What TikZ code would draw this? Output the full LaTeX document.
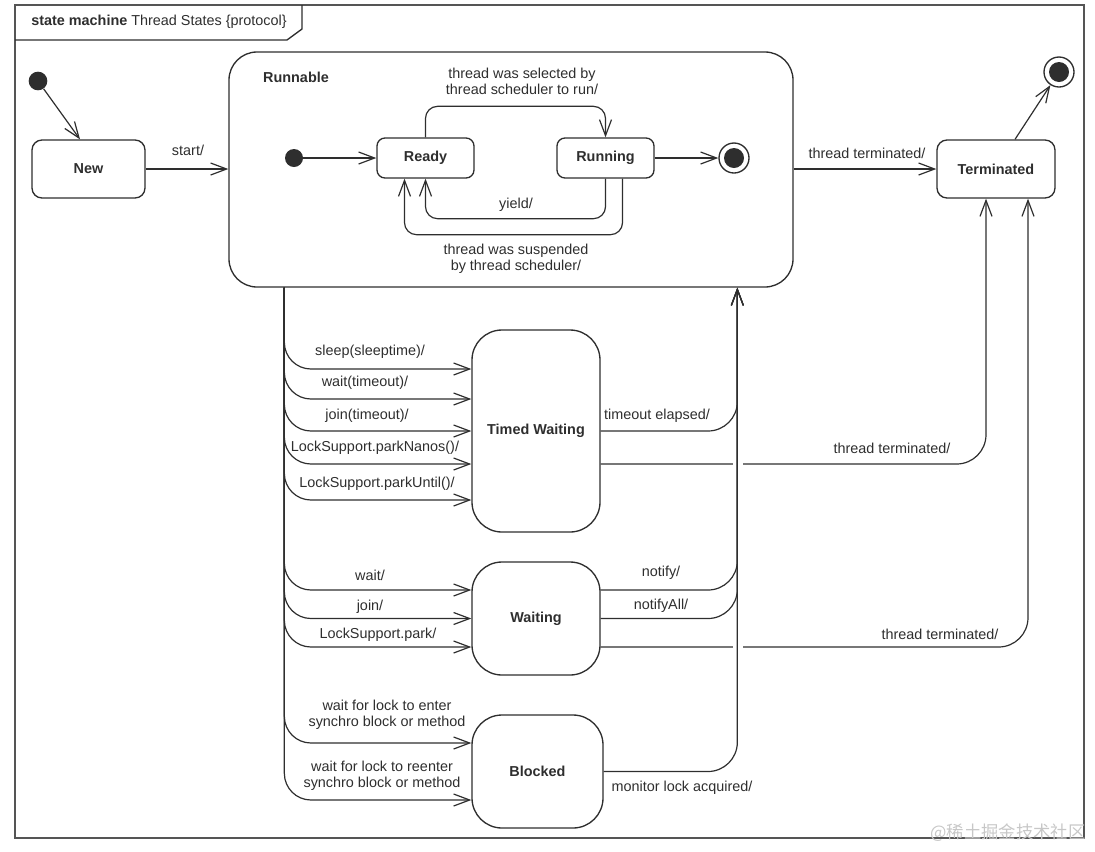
\documentclass[tikz,border=0pt]{standalone}
\usepackage{fontspec}
\setmainfont{Liberation Sans}
\newfontfamily\cjk{Noto Sans CJK SC}
\usetikzlibrary{arrows.meta,calc}
\definecolor{ink}{HTML}{2E2E2E}
\definecolor{framec}{HTML}{555555}
\begin{document}
\begin{tikzpicture}[x=0.75pt,y=-0.75pt,
  font=\fontsize{10.8}{12}\selectfont,
  every node/.style={text=ink},
  sbox/.style={draw=ink, line width=1pt, rounded corners=#1, inner sep=0pt,
    font=\fontsize{10.8}{12}\selectfont\bfseries},
  sbox/.default=7.5pt,
  conn/.style={draw=ink, line width=0.9pt, -{Straight Barb[length=12pt,width=9pt]}},
  lab/.style={inner sep=0pt, align=center},
  initst/.style={circle, fill=ink, inner sep=0pt, minimum size=14pt},
  finst/.style={circle, draw=ink, line width=1pt, inner sep=0pt, minimum size=22.5pt,
    path picture={\fill[ink] (path picture bounding box.center) circle (7.5pt);}}
]
\useasboundingbox (0,0) rectangle (1095,851);
% frame
\draw[framec, line width=1.5pt] (15,5) rectangle (1084,838);
\draw[ink, line width=1pt] (15,40) -- (287,40) -- (302,29) -- (302,5);
\node[lab] (hdr) at (159,22) {\textbf{state machine} Thread States \{protocol\}};
% states
\node[initst] (init) at (38,81) {};
\node[sbox, minimum width=84.75pt, minimum height=43.5pt] (new) at (88.5,169) {New};
\node[sbox=21pt, minimum width=423pt, minimum height=176.25pt] (run) at (511,169.5) {};
\node[lab, font=\fontsize{10.8}{12}\selectfont\bfseries] (runlab) at (296,77) {Runnable};
\node[initst, minimum size=13.5pt] (init2) at (294,158) {};
\node[sbox=6pt, minimum width=72.75pt, minimum height=30pt] (ready) at (425.5,158) {Ready};
\node[sbox=6pt, minimum width=72.75pt, minimum height=30pt] (running) at (605.5,158) {Running};
\node[finst] (fin1) at (734,158) {};
\node[sbox, minimum width=88.5pt, minimum height=43.5pt] (term) at (996,169) {Terminated};
\node[finst] (fin2) at (1059,72) {};
\node[sbox=22.5pt, minimum width=96pt, minimum height=151.5pt] (tw) at (536,431) {Timed Waiting};
\node[sbox=22.5pt, minimum width=96pt, minimum height=84.75pt] (wait) at (536,618.5) {Waiting};
\node[sbox=22.5pt, minimum width=98.25pt, minimum height=84.75pt] (blk) at (537.5,771.5) {Blocked};
% top connectors
\draw[conn] (init) -- ($(new.north)+(-8.5,0)$);
\draw[conn] (new.east) -- (new.east -| run.west);
\node[lab] (lstart) at (188,150) {start/};
\draw[conn] (init2) -- (ready);
\draw[conn] (running) -- (fin1);
\draw[conn, rounded corners=9pt] (ready.north) -- ++(0,-31) -| (running.north);
\node[lab] (lsel) at (522,81) {thread was selected by\\thread scheduler to run/};
\draw[conn, rounded corners=9pt] (running.south) -- ++(0,40) -| (ready.south);
\node[lab] (lyield) at (516,205) {yield/};
\draw[conn, rounded corners=9pt] ($(running.south)+(17,0)$) -- ++(0,56) -| ($(ready.south)+(-21,0)$);
\node[lab] (lsusp) at (516,259) {thread was suspended\\by thread scheduler/};
\draw[conn] (term.west -| run.east) -- (term.west);
\node[lab] (lterm1) at (867,153) {thread terminated/};
\draw[conn] ($(term.north)+(19,0)$) -- (fin2);
% left branches
\coordinate (L) at ($(run.south west)+(56,0)$);
\draw[conn, rounded corners=20pt] (L) |- ($(tw.west)+(0,-62)$);
\draw[conn, rounded corners=20pt] (L) |- ($(tw.west)+(0,-32)$);
\draw[conn, rounded corners=20pt] (L) |- (tw.west);
\draw[conn, rounded corners=20pt] (L) |- ($(tw.west)+(0,33)$);
\draw[conn, rounded corners=20pt] (L) |- ($(tw.west)+(0,69)$);
\draw[conn, rounded corners=20pt] (L) |- ($(wait.west)+(0,-28.5)$);
\draw[conn, rounded corners=20pt] (L) |- (wait.west);
\draw[conn, rounded corners=20pt] (L) |- ($(wait.west)+(0,28.5)$);
\draw[conn, rounded corners=20pt] (L) |- ($(blk.west)+(0,-28.5)$);
\draw[conn, rounded corners=20pt] (L) |- ($(blk.west)+(0,28.5)$);
\node[lab] (l1) at (370,352) {sleep(sleeptime)/};
\node[lab] (l2) at (365,383) {wait(timeout)/};
\node[lab] (l3) at (367,416) {join(timeout)/};
\node[lab] (l4) at (375,448) {LockSupport.parkNanos()/};
\node[lab] (l5) at (377,484) {LockSupport.parkUntil()/};
\node[lab] (l6) at (370,575) {wait/};
\node[lab] (l7) at (370,607) {join/};
\node[lab] (l8) at (378,635) {LockSupport.park/};
\node[lab] (l9) at (387,715) {wait for lock to enter\\synchro block or method};
\node[lab] (l10) at (382,776) {wait for lock to reenter\\synchro block or method};
% right: to Terminated
\draw[conn, rounded corners=22pt] ($(tw.east)+(0,33)$) -| ($(term.south)+(-10,0)$);
\draw[conn, rounded corners=22pt] ($(wait.east)+(0,28.5)$) -| ($(term.south)+(32,0)$);
\fill[white] (733,461) rectangle (743,467);
\fill[white] (733,644) rectangle (743,650);
\node[lab] (lterm2) at (892,448) {thread terminated/};
\node[lab] (lterm3) at (940,634) {thread terminated/};
% right: back to Runnable
\coordinate (R) at ($(run.south west)+(509,0)$);
\draw[conn, rounded corners=22pt] (tw.east) -| (R);
\draw[conn, rounded corners=22pt] ($(wait.east)+(0,-28.5)$) -| (R);
\draw[conn, rounded corners=22pt] (wait.east) -| (R);
\draw[conn, rounded corners=22pt] (blk.east) -| (R);
\node[lab] (lto) at (657,416) {timeout elapsed/};
\node[lab] (lnot) at (661,573) {notify/};
\node[lab] (lnall) at (661,606) {notifyAll/};
\node[lab] (lmon) at (682,788) {monitor lock acquired/};
% watermark
\node[lab, text=black!22, font=\cjk\fontsize{13}{13}\selectfont] (wm) at (1008,833) {@稀土掘金技术社区};
\end{tikzpicture}
\end{document}
